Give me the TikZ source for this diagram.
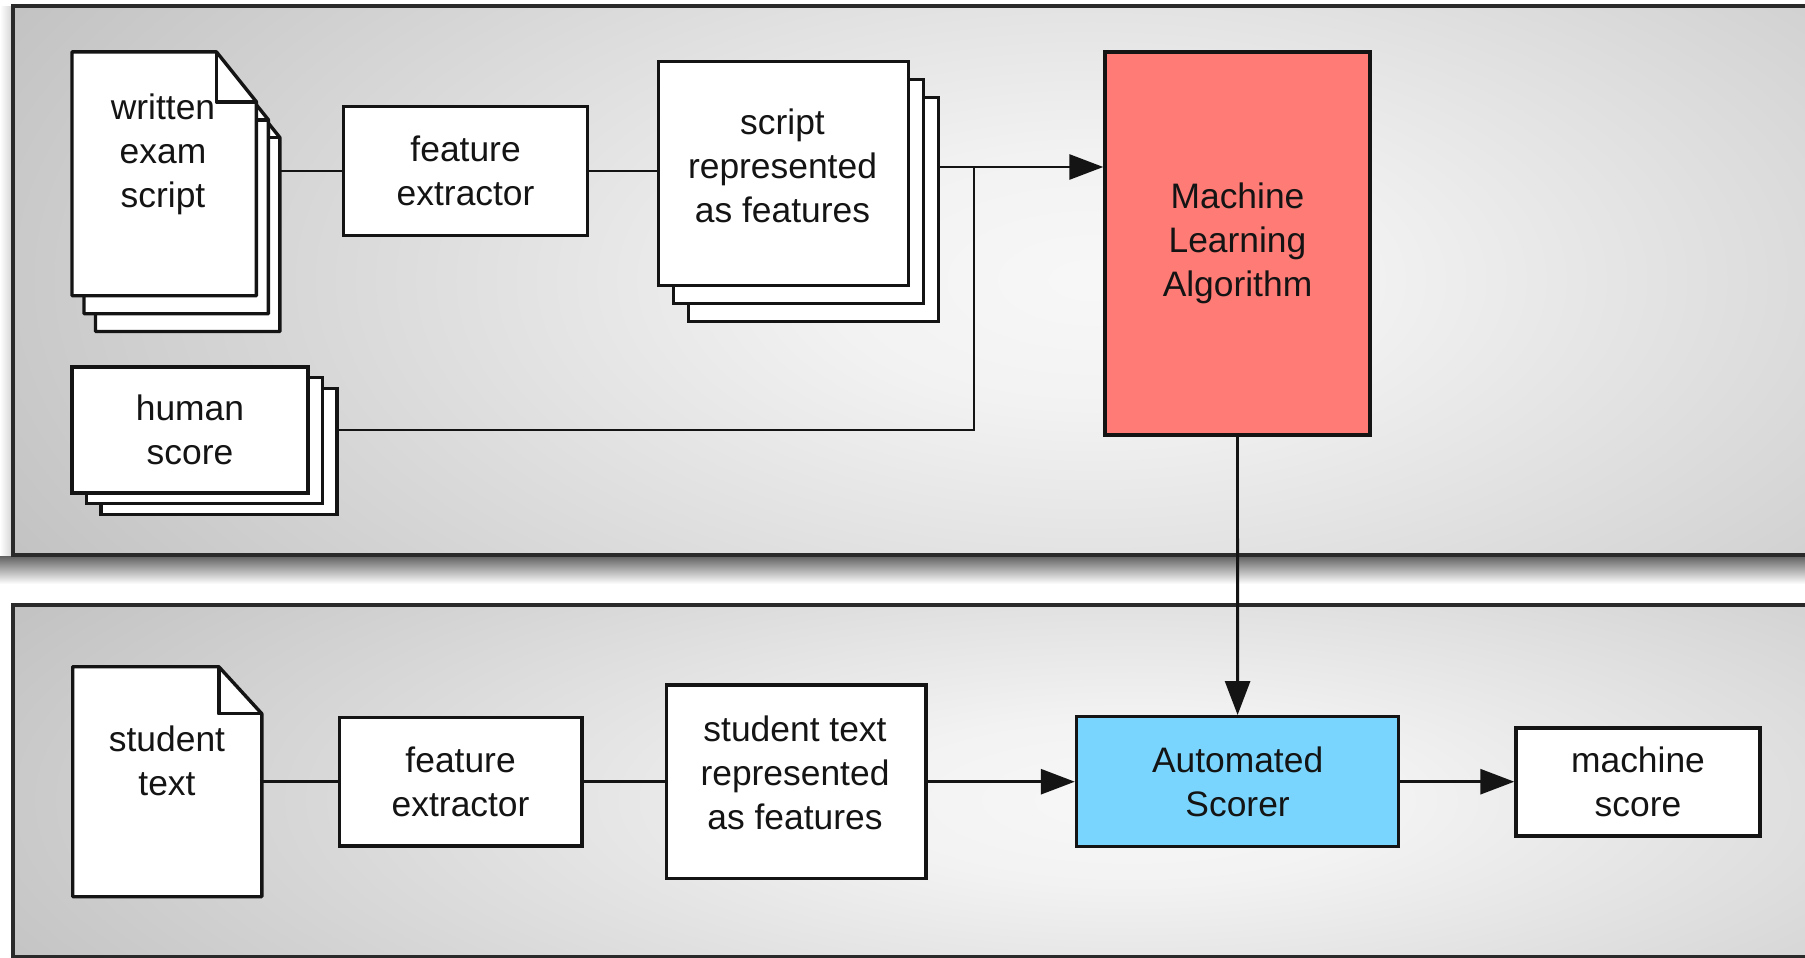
\documentclass[tikz,border=0pt]{standalone}
\usepackage{fontspec}
\setmainfont{Liberation Sans}
\usetikzlibrary{arrows.meta,calc}
\definecolor{mlred}{HTML}{FF7B76}
\definecolor{asblue}{HTML}{79D5FD}
\definecolor{inkc}{HTML}{141414}
\definecolor{paneledge}{HTML}{2A2A2A}
\pgfdeclareradialshading{panelshade}{\pgfpointorigin}{color(0bp)=(white!97!black); color(6bp)=(white!95!black); color(25bp)=(white!79!black); color(36bp)=(white!70!black); color(50bp)=(white!70!black)}
\newcommand\docoutline[3]{%
  \filldraw[docline] (#1.north west) -- ([xshift=-#2]#1.north east) -- ([yshift=-#3]#1.north east) -- (#1.south east) -- (#1.south west) -- cycle;
  \draw[docline,fill=none] ([xshift=-#2]#1.north east) -- ([xshift=-#2,yshift=-#3]#1.north east) -- ([yshift=-#3]#1.north east);}
\tikzset{
  lblfont/.style={font=\fontsize{17.7pt}{22pt}\selectfont, text=inkc, align=center},
  plainbox/.style={lblfont, draw=inkc, line width=1.7pt, fill=white, inner sep=0pt},
  docnode/.style={inner sep=0pt, outer sep=0pt, draw=none},
  docline/.style={draw=inkc, line width=1.7pt, fill=white, line join=round},
  conn/.style={draw=inkc, line width=1.45pt},
  arr/.style={conn, -{Triangle[length=17pt,width=12.5pt]}},
  lbl/.style={lblfont, inner sep=0pt},
  paneline/.style={draw=paneledge, line width=1.6pt}
}
\begin{document}
\begin{tikzpicture}[x=0.5pt, y=-0.5pt]
\useasboundingbox (0,0) rectangle (1805,958);
\clip (0,0) rectangle (1805,958);
\fill[white] (0,0) rectangle (1805,958);
% shadows
\shade[left color=white, right color=black!18] (0,6) rectangle (13,560);
\shade[top color=black!62, bottom color=white] (0,556) rectangle (1805,584);
% top panel
\begin{scope}
  \clip (13,6) rectangle (1805,555);
  \shade[shading=panelshade] (13,-240) rectangle (2170,800);
\end{scope}
\draw[paneline] (13,6) rectangle (2170,555);
% bottom panel
\begin{scope}
  \clip (13,605) rectangle (1805,957);
  \shade[shading=panelshade] (13,450) rectangle (2250,1150);
\end{scope}
\draw[paneline] (13,605) rectangle (2250,957);

% written exam script (stack of documents)
\node[docnode, minimum width=92.2pt, minimum height=121.95pt] (wes3) at (187.7,209.5) {};
\docoutline{wes3}{20pt}{25pt}
\node[docnode, minimum width=92.2pt, minimum height=121.95pt] (wes2) at (176.2,191.75) {};
\docoutline{wes2}{20pt}{25pt}
\node[docnode, minimum width=92.2pt, minimum height=121.95pt] (wes) at (164.2,173.75) {};
\docoutline{wes}{20pt}{25pt}
\node[lbl] (wesl) at (163,154) {written\\exam\\script};

% human score stack
\node[plainbox, minimum width=118pt, minimum height=63pt] (hs3) at (219,451.4) {};
\node[plainbox, minimum width=118pt, minimum height=63pt] (hs2) at (204.5,440.7) {};
\node[plainbox, minimum width=118pt, minimum height=63pt] (hs) at (190,430) {human\\score};

% feature extractor (top)
\node[plainbox, minimum width=121.9pt, minimum height=64.65pt] (fe1) at (465.6,171) {feature\\extractor};

% script represented as features stack
\node[plainbox, minimum width=125pt, minimum height=112.15pt] (sf3) at (813.7,209.55) {};
\node[plainbox, minimum width=125pt, minimum height=112.15pt] (sf2) at (798.7,191.55) {};
\node[plainbox, minimum width=125pt, minimum height=112.15pt] (sf) at (783.7,173.55) {};
\node[lbl] (sfl) at (782.5,166) {script\\represented\\as features};

% machine learning algorithm
\node[plainbox, fill=mlred, minimum width=132.5pt, minimum height=191.6pt] (ml) at (1237.5,243.4) {Machine\\Learning\\Algorithm};

% junction
\coordinate (j) at (974,167);

% student text document
\node[docnode, minimum width=94.55pt, minimum height=115pt] (st) at (167.25,781.7) {};
\docoutline{st}{21.5pt}{23.5pt}
\node[lbl] (stl) at (167,761) {student\\text};

% feature extractor (bottom)
\node[plainbox, minimum width=121.2pt, minimum height=64.15pt] (fe2) at (460.6,781.85) {feature\\extractor};

% student text represented as features
\node[plainbox, minimum width=129.65pt, minimum height=96.65pt] (stf) at (796.35,781.65) {};
\node[lbl] (stfl) at (795,773) {student text\\represented\\as features};

% automated scorer
\node[plainbox, fill=asblue, minimum width=161.1pt, minimum height=65pt] (as) at (1237.6,781.7) {Automated\\Scorer};

% machine score
\node[plainbox, minimum width=122pt, minimum height=54pt] (ms) at (1638,782) {machine\\score};

% connectors (top)
\draw[conn] (wes3.east |- fe1.west) -- (fe1.west);
\draw[conn] (fe1.east) -- (fe1.east -| sf.west);
\draw[conn] (sf3.east |- j) -- (j);
\draw[arr] (j) -- (j -| ml.west);
\draw[conn] (hs3.east |- hs.center) -| (j);
\draw[arr] (ml.south) -- (as.north);
% connectors (bottom)
\draw[conn] (st.east |- fe2.west) -- (fe2.west);
\draw[conn] (fe2.east) -- (fe2.east -| stf.west);
\draw[arr] (stf.east |- as.west) -- (as.west);
\draw[arr] (as.east) -- (as.east -| ms.west);
\end{tikzpicture}
\end{document}
